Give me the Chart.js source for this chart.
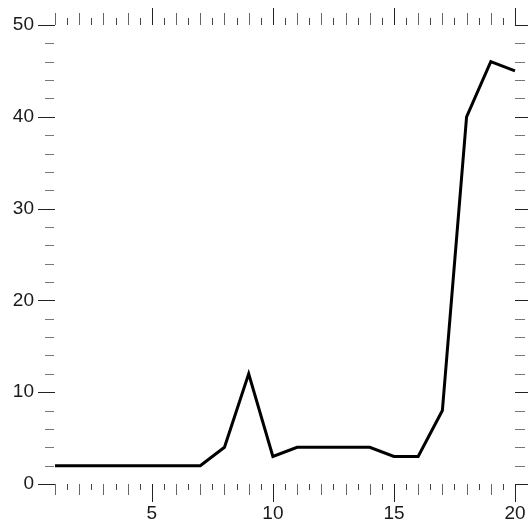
<!DOCTYPE html>
<html>
<head>
<meta charset="utf-8">
<script src="https://cdn.jsdelivr.net/npm/chart.js@4.4.1/dist/chart.umd.min.js"></script>
<style>
  html, body { margin: 0; padding: 0; background: #fff; }
  canvas { display: block; }
</style>
</head>
<body>
<canvas id="myChart" width="528" height="525"></canvas>
<script>
// values
const xValues = [1, 2, 3, 4, 5, 6, 7, 8, 9, 10, 11, 12, 13, 14, 15, 16, 17, 18, 19, 20];
const yValues = [2, 2, 2, 2, 2, 2, 2, 4, 12, 3, 4, 4, 4, 4, 3, 3, 8, 40, 46, 45];
const xTickLabels = [5, 10, 15, 20];
const yTickLabels = [0, 10, 20, 30, 40, 50];

// draws the little tick marks on all four sides, using the chart's own scales
const tickMarks = {
  id: 'tickMarks',
  afterDraw(chart) {
    const ctx = chart.ctx;
    const area = chart.chartArea;
    const xs = chart.scales.x;
    const ys = chart.scales.y;
    ctx.save();
    ctx.lineWidth = 1;

    xs.ticks.forEach(t => {
      const px = Math.round(xs.getPixelForValue(t.value)) + 0.5;
      let bottomLen, topLen;
      if (xTickLabels.includes(t.value)) {
        bottomLen = 18; topLen = 17;
        ctx.strokeStyle = '#222';
      } else if (Number.isInteger(t.value)) {
        bottomLen = 11; topLen = 12;
        ctx.strokeStyle = '#666';
      } else {
        bottomLen = 6; topLen = 7;
        ctx.strokeStyle = '#444';
      }
      ctx.beginPath();
      ctx.moveTo(px, area.bottom);
      ctx.lineTo(px, area.bottom + bottomLen);
      ctx.moveTo(px, area.top);
      ctx.lineTo(px, area.top - topLen);
      ctx.stroke();
    });

    ys.ticks.forEach(t => {
      const py = Math.round(ys.getPixelForValue(t.value)) + 0.5;
      const major = yTickLabels.includes(t.value);
      ctx.strokeStyle = major ? '#222' : '#777';
      ctx.beginPath();
      if (major) {
        ctx.moveTo(area.left - 17, py);
        ctx.lineTo(area.left, py);
        ctx.moveTo(area.right, py);
        ctx.lineTo(area.right + 13, py);
      } else {
        ctx.moveTo(area.left - 10, py);
        ctx.lineTo(area.left - 1, py);
        ctx.moveTo(area.right, py);
        ctx.lineTo(area.right + 10, py);
      }
      ctx.stroke();
    });
    ctx.restore();
  }
};

const ctx = document.getElementById('myChart').getContext('2d');
const myChart = new Chart(ctx, {
  type: 'line',
  data: {
    datasets: [
      {
        data: xValues.map((x, i) => ({ x: x, y: yValues[i] })),
        borderColor: '#000',
        borderWidth: 3,
        pointRadius: 0,
        tension: 0,
        fill: false,
        clip: false,
      },
    ],
  },
  options: {
    responsive: false,
    animation: false,
    devicePixelRatio: 1,
    layout: {
      padding: { left: 0, right: 13, top: 25, bottom: 0 },
    },
    plugins: {
      legend: { display: false },
      tooltip: { enabled: false },
    },
    scales: {
      x: {
        type: 'linear',
        min: 1,
        max: 20,
        border: { display: false },
        grid: { display: true, drawOnChartArea: false, drawTicks: false },
        ticks: {
          stepSize: 0.5,
          autoSkip: false,
          maxRotation: 0,
          padding: 18,
          color: '#1a1a1a',
          font: { family: "'Liberation Sans', Arial, sans-serif", size: 19 },
          callback: value => (xTickLabels.includes(value) ? String(value) : ''),
        },
        afterFit: scale => {
          scale.height = 41;
          scale.paddingLeft = 0;
          scale.paddingRight = 0;
        },
      },
      y: {
        min: 0,
        max: 50,
        border: { display: false },
        grid: { display: true, drawOnChartArea: false, drawTicks: false },
        ticks: {
          stepSize: 2,
          autoSkip: false,
          padding: 21,
          color: '#1a1a1a',
          font: { family: "'Liberation Sans', Arial, sans-serif", size: 19 },
          callback: value => (yTickLabels.includes(value) ? String(value) : ''),
        },
        afterFit: scale => {
          scale.width = 55;
          scale.paddingTop = 0;
          scale.paddingBottom = 0;
        },
      },
    },
  },
  plugins: [tickMarks],
});
</script>
</body>
</html>
